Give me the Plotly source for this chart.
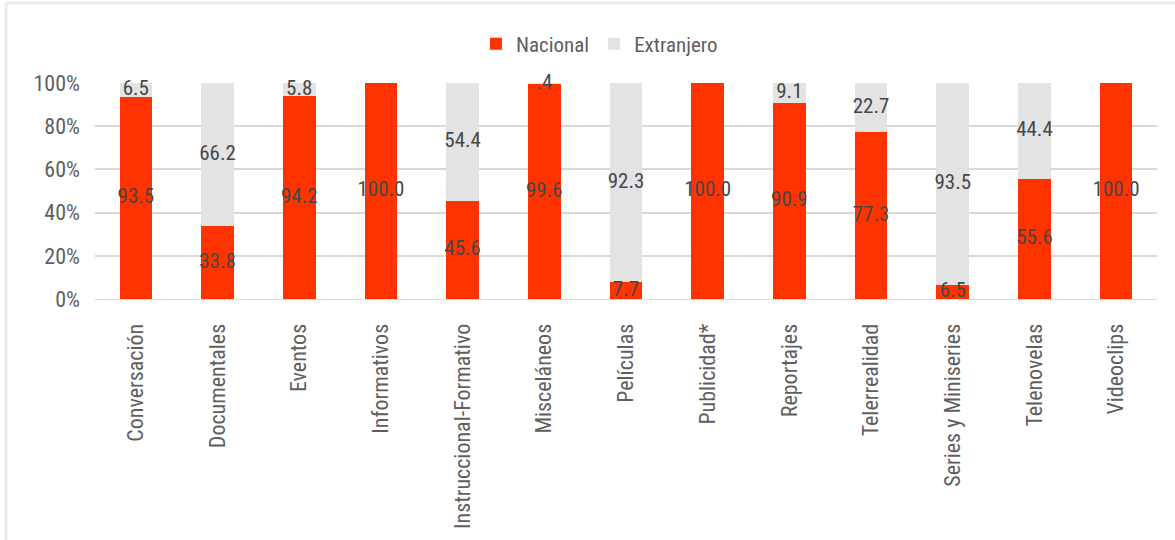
import plotly.graph_objects as go

categorias = ["Conversación", "Documentales", "Eventos", "Informativos",
              "Instruccional-Formativo", "Misceláneos", "Películas", "Publicidad*",
              "Reportajes", "Telerrealidad", "Series y Miniseries", "Telenovelas",
              "Videoclips"]
nacional = [93.5, 33.8, 94.2, 100.0, 45.6, 99.6, 7.7, 100.0, 90.9, 77.3, 6.5, 55.6, 100.0]
extranjero = [6.5, 66.2, 5.8, 0.0, 54.4, 0.4, 92.3, 0.0, 9.1, 22.7, 93.5, 44.4, 0.0]
ticks_y = [0, 20, 40, 60, 80, 100]

ROJO = "#FF3300"
GRIS = "#E3E3E3"
TXT = "#5F5F5F"
FONT = "Liberation Sans Narrow, Arial Narrow, Roboto Condensed, Liberation Sans, Arial, sans-serif"


def etiqueta(v):
    s = f"{v:.1f}"
    if s.startswith("0."):
        s = s[1:]
    return s


fig = go.Figure()
fig.add_bar(x=categorias, y=nacional, name="Nacional", marker_color=ROJO,
            marker_line_width=0, width=0.4)
fig.add_bar(x=categorias, y=extranjero, name="Extranjero", marker_color=GRIS,
            marker_line_width=0, width=0.4)

# value labels centred in each segment (zero segments left unlabelled)
lx, ly, lt = [], [], []
for c, n, e in zip(categorias, nacional, extranjero):
    if n > 0:
        lx.append(c); ly.append(n / 2); lt.append(etiqueta(n))
    if e > 0:
        lx.append(c); ly.append(n + e / 2); lt.append(etiqueta(e))
fig.add_scatter(x=lx, y=ly, text=lt, mode="text", showlegend=False,
                textfont=dict(family=FONT, size=21, color="#474747"),
                hoverinfo="skip", cliponaxis=False)

# frame edges
fig.add_shape(type="line", xref="paper", yref="paper", x0=-0.0838, x1=1.1,
              y0=1.37, y1=1.37, line=dict(color="#EBEBEB", width=3))
fig.add_shape(type="line", xref="paper", yref="paper", x0=-0.0838, x1=-0.0838,
              y0=1.37, y1=-1.2, line=dict(color="#EBEBEB", width=3))

fig.update_layout(
    barmode="stack",
    width=1175, height=540,
    margin=dict(l=95, r=18, t=83, b=241, autoexpand=False),
    paper_bgcolor="white", plot_bgcolor="white",
    font=dict(family=FONT, size=21, color=TXT),
    legend=dict(orientation="h", x=0.475, xanchor="center", y=1.18, yanchor="middle",
                font=dict(family=FONT, size=21, color=TXT), itemwidth=30,
                traceorder="normal"),
    xaxis=dict(tickangle=-90, showgrid=False, showline=True, linecolor="#D9D9D9",
               linewidth=1, ticks="", ticklabelstandoff=15,
               tickfont=dict(family=FONT, size=22, color=TXT),
               range=[-0.5, len(categorias) - 0.5]),
    yaxis=dict(range=[0, 100], tickvals=ticks_y, ticktext=[f"{t}%" for t in ticks_y],
               showgrid=True, gridcolor="#D9D9D9", gridwidth=1.5, zeroline=False,
               ticks="", ticklabelstandoff=14,
               tickfont=dict(family=FONT, size=22, color=TXT)),
)

fig.write_html("out.html")
